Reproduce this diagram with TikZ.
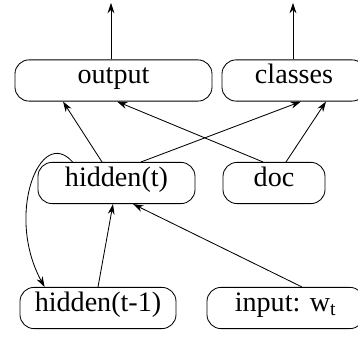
\documentclass[tikz,border=0pt]{standalone}
\usepackage{fontspec}
\setmainfont{Liberation Serif}
\usetikzlibrary{arrows.meta}
\begin{document}
\begin{tikzpicture}[
    box/.style={draw, rounded corners=0.35cm, inner sep=0pt, minimum height=1.03cm, text height=1.5ex, text depth=0.45ex, font=\fontsize{20}{24}\selectfont},
    arr/.style={-{Stealth[length=2.6mm, width=1.7mm]}},
    line width=0.6pt]
        \useasboundingbox (0,0) rectangle (8.95,8.4);
        \node[box, minimum width=4.925cm] (out) at (2.8375, 6.3875) {output};
        \node[box, minimum width=3.6cm] (cls) at (7.35, 6.3875) {classes};
        \node[box, minimum width=3.925cm] (ht) at (2.9125, 3.825) {hidden(t)};
        \node[box, minimum width=2.55cm] (doc) at (6.85, 3.825) {doc};
        \node[box, minimum width=3.9cm] (hp) at (2.45, 0.7) {hidden(t-1)};
        \node[box, minimum width=3.925cm] (inp) at (7.1375, 0.7) {input: w\textsubscript{t}};
        \coordinate (outtop) at (2.775, 8.33);
        \coordinate (clstop) at (7.325, 8.33);
        \draw[arr] (outtop |- out.north) -- (outtop);
        \draw[arr] (clstop |- cls.north) -- (clstop);
        \draw[arr] ([xshift=-0.3625cm]ht.north) -- ([xshift=-1.2625cm]out.south);
        \draw[arr] ([xshift=-0.275cm]doc.north) -- ([xshift=0.0875cm]out.south);
        \draw[arr] ([xshift=0.6125cm]ht.north) -- ([xshift=0.175cm]cls.south);
        \draw[arr] ([xshift=0.3cm]doc.north) -- ([xshift=0.8cm]cls.south);
        \draw[arr] (hp.north) -- ([xshift=-0.0875cm]ht.south);
        \draw[arr] ([xshift=0.4125cm]inp.north) -- ([xshift=0.4125cm]ht.south);
        \draw[arr] ([xshift=0.875cm]ht.north west) .. controls (1.0, 5.275) and (0.125, 3.025) .. ([xshift=0.625cm]hp.north west);
      \end{tikzpicture}
\end{document}
